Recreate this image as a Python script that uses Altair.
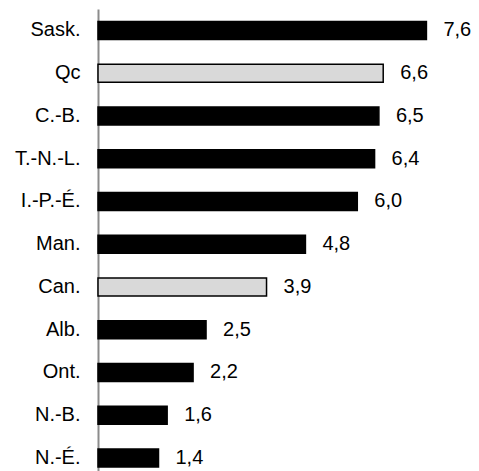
import altair as alt
import pandas as pd

provinces = ["Sask.", "Qc", "C.-B.", "T.-N.-L.", "I.-P.-É.", "Man.", "Can.", "Alb.", "Ont.", "N.-B.", "N.-É."]
values = [7.6, 6.6, 6.5, 6.4, 6.0, 4.8, 3.9, 2.5, 2.2, 1.6, 1.4]
labels = ["7,6", "6,6", "6,5", "6,4", "6,0", "4,8", "3,9", "2,5", "2,2", "1,6", "1,4"]
highlight = ["Qc", "Can."]

df = pd.DataFrame({
    "prov": provinces,
    "val": values,
    "label": labels,
    "kind": ["gris" if p in highlight else "noir" for p in provinces],
})

y = alt.Y(
    "prov:N", sort=provinces, title=None,
    scale=alt.Scale(paddingInner=0.579, paddingOuter=0.192, align=0.756),
    axis=alt.Axis(ticks=False, labelPadding=18, labelFontSize=20, labelFont="Liberation Sans",
                  labelColor="black", domainColor="#8c8c8c", domainWidth=2, grid=False, labelAngle=0),
)
x = alt.X("val:Q", scale=alt.Scale(domain=[0, 8.4]), axis=None)

bars = alt.Chart(df).mark_bar(stroke="black", strokeWidth=1.5).encode(
    x=x, y=y,
    fill=alt.Fill("kind:N", scale=alt.Scale(domain=["noir", "gris"], range=["#000000", "#d9d9d9"]), legend=None),
)
text = alt.Chart(df).mark_text(align="left", baseline="middle", dx=17, fontSize=20,
                               font="Liberation Sans", color="black").encode(
    x=x, y=y, text="label:N"
)

chart = (bars + text).properties(
    width=363, height=462,
    autosize=alt.AutoSizeParams(type="none"),
    padding={"left": 90, "top": 1, "right": 10, "bottom": 0},
).configure_view(stroke=None)

chart.save("out.html", embed_options={"renderer": "svg", "actions": False})
